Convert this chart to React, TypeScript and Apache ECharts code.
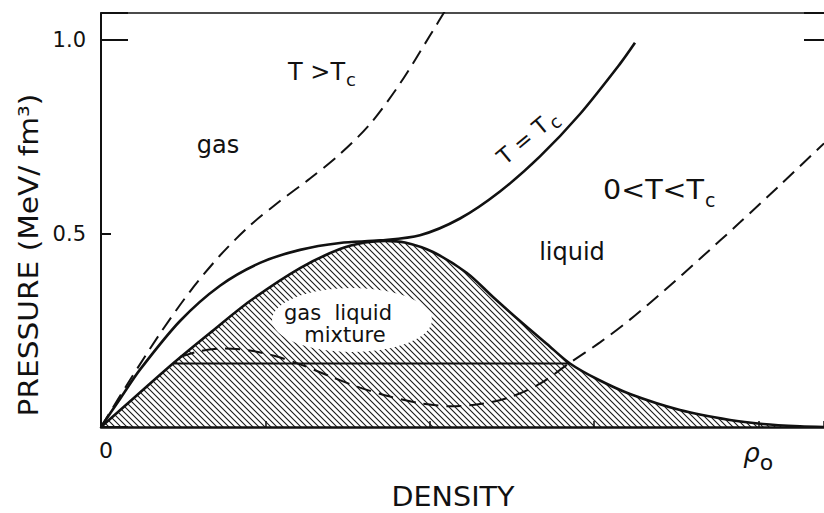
import React, { useEffect, useRef } from 'react';
import * as echarts from 'echarts';

// Density in units of rho0, pressure in MeV/fm^3
const X_MAX = 1.1;
const Y_MAX = 1.07;
const densityTickStep = 0.25;
const pressureTickStep = 0.5;
const pressureTickLabels = ['0.5', '1.0'];

// coexistence (binodal) curve bounding the hatched gas-liquid mixture region
const coexistence: [number, number][] = [
  [0, 0], [0.0517, 0.0775], [0.1095, 0.1641], [0.1658, 0.2429], [0.2267, 0.3256],
  [0.3028, 0.4109], [0.3636, 0.4599], [0.4016, 0.4767], [0.4321, 0.4811],
  [0.4625, 0.4767], [0.5051, 0.4522], [0.5568, 0.3979], [0.5964, 0.3359],
  [0.6375, 0.2739], [0.6785, 0.2145], [0.7135, 0.1641], [0.7546, 0.1240],
  [0.8048, 0.0853], [0.8809, 0.0439], [0.9570, 0.0181], [1.0071, 0.0078],
  [1.0634, 0.0018], [1.1, 0],
];

// T = Tc isotherm
const criticalIsotherm: [number, number][] = [
  [0, 0], [0.0289, 0.0725], [0.0593, 0.1482], [0.1202, 0.2740], [0.1810, 0.3652],
  [0.2419, 0.4242], [0.3028, 0.4578], [0.3636, 0.4756], [0.4245, 0.4823],
  [0.4853, 0.4957], [0.5462, 0.5389], [0.6070, 0.6087], [0.6679, 0.6993],
  [0.7288, 0.8089], [0.7896, 0.9384], [0.8124, 0.9929],
];

// T > Tc isotherm (dashed)
const supercriticalIsotherm: [number, number][] = [
  [0, 0], [0.0441, 0.1214], [0.0898, 0.2416], [0.1354, 0.3501], [0.1810, 0.4432],
  [0.2267, 0.5207], [0.2723, 0.5840], [0.3180, 0.6421], [0.3636, 0.7054],
  [0.4093, 0.7829], [0.4549, 0.8876], [0.5005, 1.0116], [0.5310, 1.0969],
];

// 0 < T < Tc isotherm (dashed, van der Waals loop)
const subcriticalIsotherm: [number, number][] = [
  [0.1202, 0.1809], [0.1506, 0.1964], [0.1887, 0.2028], [0.2267, 0.1977],
  [0.2647, 0.1835], [0.3028, 0.1620], [0.3484, 0.1310], [0.3940, 0.1018],
  [0.4397, 0.0786], [0.4853, 0.0615], [0.5310, 0.0537], [0.5766, 0.0592],
  [0.6222, 0.0770], [0.6679, 0.1119], [0.7135, 0.1661], [0.7592, 0.2186],
  [0.8048, 0.2775], [0.8580, 0.3543], [0.9113, 0.4349], [0.9722, 0.5289],
  [1.0330, 0.6251], [1.1000, 0.7331],
];

// Maxwell construction (horizontal tie line)
const tieLine: [number, number][] = [[0.1095, 0.1641], [0.7135, 0.1641]];

const FONT = 'DejaVu Sans';
const INK = '#111';

export default function App() {
  const ref = useRef<HTMLDivElement>(null);

  useEffect(() => {
    if (!ref.current) return;
    const chart = echarts.init(ref.current, null, { renderer: 'svg' });

    const tile = document.createElement('canvas');
    tile.width = 6;
    tile.height = 6;
    const ctx = tile.getContext('2d');
    if (ctx) {
      ctx.strokeStyle = '#1a1a1a';
      ctx.lineWidth = 1.1;
      ctx.beginPath();
      ctx.moveTo(-1, -1); ctx.lineTo(7, 7);
      ctx.moveTo(-1, 5); ctx.lineTo(1, 7);
      ctx.moveTo(5, -1); ctx.lineTo(7, 1);
      ctx.stroke();
    }
    const hatch: any = { image: tile, repeat: 'repeat', imageWidth: 6, imageHeight: 6 };

    const curve = (name: string, data: [number, number][], width: number, dashed: boolean) => ({
      name,
      type: 'line',
      data,
      showSymbol: false,
      smooth: 0.3,
      z: 10,
      silent: true,
      lineStyle: { color: INK, width, type: dashed ? [15, 8] : 'solid' },
    });

    const text = (t: string, x: number, y: number, size: number, extra: any = {}) => ({
      type: 'text',
      x,
      y,
      z: 20,
      silent: true,
      ...extra,
      style: {
        text: t,
        fontSize: size,
        fontFamily: FONT,
        fill: INK,
        textAlign: extra.align || 'center',
        textVerticalAlign: 'middle',
      },
    });

    const rot = (40 * Math.PI) / 180;

    const option: any = {
      animation: false,
      backgroundColor: '#fff',
      grid: { left: 101, right: 0, top: 13, bottom: 86, containLabel: false, outerBoundsMode: 'none' },
      xAxis: [
        {
          type: 'value', min: 0, max: X_MAX, interval: densityTickStep, position: 'bottom', z: 15,
          axisLine: { onZero: false, lineStyle: { color: INK, width: 2.5 } },
          axisTick: { inside: true, length: 6, lineStyle: { color: INK, width: 1.5 } },
          splitLine: { show: false },
          axisLabel: {
            margin: 13,
            color: INK,
            fontFamily: FONT,
            formatter: (v: number) => (v === 0 ? '{z|0}' : Math.abs(v - 1) < 1e-9 ? '{r|ρ}{s|o}' : ''),
            rich: {
              z: { fontSize: 22, lineHeight: 20, padding: [0, 0, 0, 10], fontFamily: FONT, color: INK },
              r: { fontSize: 26, fontStyle: 'italic', lineHeight: 20, verticalAlign: 'top', fontFamily: FONT, color: INK },
              s: { fontSize: 22, lineHeight: 44, fontFamily: FONT, color: INK },
            },
          },
        },
        {
          type: 'value', min: 0, max: X_MAX, position: 'top', z: 15,
          axisLine: { onZero: false, lineStyle: { color: INK, width: 1.5 } },
          axisTick: { show: false }, axisLabel: { show: false }, splitLine: { show: false },
        },
      ],
      yAxis: [
        {
          type: 'value', min: 0, max: Y_MAX, interval: pressureTickStep, position: 'left', z: 15,
          axisLine: { onZero: false, lineStyle: { color: INK, width: 2 } },
          axisTick: { inside: true, length: 10, lineStyle: { color: INK, width: 2 } },
          splitLine: { show: false },
          axisLabel: {
            margin: 15, fontSize: 21, fontFamily: FONT, color: INK,
            formatter: (v: number) => {
              const k = v / pressureTickStep;
              const i = Math.round(k) - 1;
              return Math.abs(k - Math.round(k)) < 1e-9 && i >= 0 && i < pressureTickLabels.length
                ? pressureTickLabels[i] : '';
            },
          },
        },
        {
          type: 'value', min: 0, max: Y_MAX, interval: 1, position: 'left', z: 15,
          axisLine: { show: false, onZero: false },
          axisTick: { inside: true, length: 27, lineStyle: { color: INK, width: 2 } },
          axisLabel: { show: false }, splitLine: { show: false },
        },
        {
          type: 'value', min: 0, max: Y_MAX, interval: 1, position: 'right', z: 15,
          axisLine: { show: false, onZero: false },
          axisTick: { inside: true, length: 20, lineStyle: { color: INK, width: 2 } },
          axisLabel: { show: false }, splitLine: { show: false },
        },
      ],
      series: [
        {
          name: 'mixture region', type: 'line', data: coexistence, showSymbol: false, smooth: 0.3,
          z: 1, silent: true, lineStyle: { width: 0, opacity: 0 },
          areaStyle: { color: hatch, opacity: 1 },
        },
        curve('coexistence', coexistence, 2.6, false),
        curve('T = Tc', criticalIsotherm, 2.6, false),
        curve('T > Tc', supercriticalIsotherm, 2, true),
        curve('0 < T < Tc', subcriticalIsotherm, 2, true),
        { ...curve('tie line', tieLine, 1.8, false), smooth: false },
      ],
      graphic: [
        { type: 'ellipse', z: 5, silent: true, shape: { cx: 352, cy: 320, rx: 80, ry: 32 }, style: { fill: '#fff' } },
        text('gas', 218, 145, 24),
        text('T >T', 288, 72, 24, { align: 'left' }),
        text('c', 346, 79, 18, { align: 'left' }),
        text('T = T', 523, 141, 22, { rotation: rot }),
        text('c', 555, 122, 18, { rotation: rot }),
        text('0<T<T', 603, 190, 26, { align: 'left', scaleX: 1.1 }),
        text('c', 705, 200, 19, { align: 'left' }),
        text('liquid', 572, 252, 24),
        text('gas  liquid', 338, 313, 21),
        text('mixture', 345, 335, 21),
        text('DENSITY', 453, 497, 26, { scaleX: 1.1 }),
        text('PRESSURE (MeV/ fm³)', 29, 255, 26, { scaleX: 1.14, rotation: Math.PI / 2 }),
      ],
    };

    chart.setOption(option);
    return () => chart.dispose();
  }, []);

  return (
    <div
      ref={ref}
      style={{ position: 'absolute', left: 0, top: 0, width: 824, height: 513, background: '#fff' }}
    />
  );
}
